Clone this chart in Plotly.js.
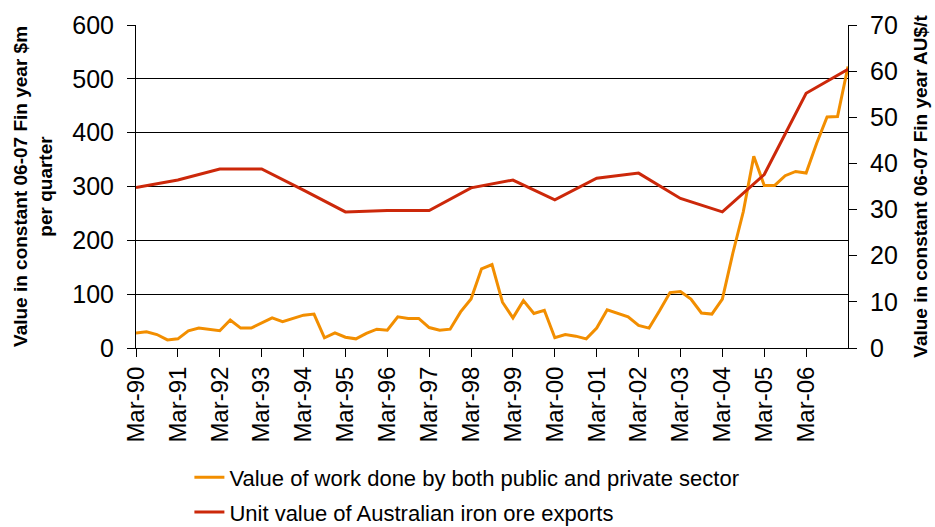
<!DOCTYPE html>
<html>
<head>
<meta charset="utf-8">
<script src="https://cdn.plot.ly/plotly-3.0.1.min.js"></script>
<style>html,body{margin:0;padding:0;background:#fff;}#chart{width:935px;height:527px;}</style>
</head>
<body>
<div id="chart"></div>
<script>
// Quarterly categories Mar-90 .. Mar-07
const quarterNames = ["Mar", "Jun", "Sep", "Dec"];
const yearCodes = ["90","91","92","93","94","95","96","97","98","99","00","01","02","03","04","05","06","07"];
const categories = [];
yearCodes.forEach(function (y) { quarterNames.forEach(function (q) { categories.push(q + "-" + y); }); });
const quarterCats = categories.slice(0, 69);

// Value of work done by both public and private sector ($m per quarter)
const workDone = [
  28, 30, 25, 15, 17, 32, 37, 35, 32, 52, 37, 37,
  46, 56, 49, 55, 61, 63, 19, 28, 20, 17, 27, 35,
  33, 58, 55, 55, 38, 33, 35, 67, 91, 147, 155, 85,
  56, 88, 64, 70, 19, 25, 22, 17, 37, 71, 64, 58,
  42, 37, 69, 103, 105, 91, 65, 63, 91, 176, 253, 356,
  302, 302, 320, 328, 325, 380, 429, 430, 523
];

// Unit value of Australian iron ore exports (AU$/t), March quarters
const unitCats = ["Mar-90","Mar-91","Mar-92","Mar-93","Mar-94","Mar-95","Mar-96","Mar-97","Mar-98",
                  "Mar-99","Mar-00","Mar-01","Mar-02","Mar-03","Mar-04","Mar-05","Mar-06","Mar-07"];
const unitValue = [34.8, 36.4, 38.8, 38.8, 34.2, 29.5, 29.8, 29.8, 34.7,
                   36.4, 32.1, 36.8, 37.9, 32.4, 29.5, 37.6, 55.2, 60.4];

const tickLabels = ["Mar-90","Mar-91","Mar-92","Mar-93","Mar-94","Mar-95","Mar-96","Mar-97","Mar-98",
                    "Mar-99","Mar-00","Mar-01","Mar-02","Mar-03","Mar-04","Mar-05","Mar-06"];

const FONT = "Liberation Sans, Arial, sans-serif";

const traces = [
  {
    x: quarterCats, y: workDone, type: "scatter", mode: "lines",
    name: "Value of work done by both public and private sector",
    line: {color: "rgb(242,142,0)", width: 3},
    legendgroup: "a", yaxis: "y"
  },
  {
    x: unitCats, y: unitValue, type: "scatter", mode: "lines",
    name: "Unit value of Australian iron ore exports",
    line: {color: "rgb(204,40,10)", width: 3},
    legendgroup: "b", yaxis: "y2"
  }
];

const layout = {
  width: 935, height: 527,
  margin: {l: 136, r: 87, t: 25, b: 179, autoexpand: false},
  paper_bgcolor: "#fff", plot_bgcolor: "#fff",
  font: {family: FONT, color: "#000"},
  showlegend: true,
  legend: {
    x: 0.075, xanchor: "left", y: -0.336, yanchor: "top",
    font: {size: 22, family: FONT, color: "#000"},
    traceorder: "grouped", tracegroupgap: 3,
    bgcolor: "rgba(0,0,0,0)"
  },
  xaxis: {
    type: "category",
    range: [0, 68],
    tickmode: "array", tickvals: tickLabels, ticktext: tickLabels,
    tickangle: -90,
    ticks: "outside", ticklen: 8, tickcolor: "#000", tickwidth: 1,
    tickfont: {size: 24, family: FONT, color: "#000"},
    showline: true, linecolor: "#000", linewidth: 1,
    showgrid: false, zeroline: false,
    automargin: false
  },
  yaxis: {
    range: [0, 600], dtick: 100, tick0: 0,
    ticks: "outside", ticklen: 8, tickcolor: "#000",
    ticklabelstandoff: 8,
    tickfont: {size: 25, family: FONT, color: "#000"},
    showline: true, linecolor: "#000", linewidth: 1,
    showgrid: true, gridcolor: "#000", gridwidth: 1,
    zeroline: false, automargin: false,
    title: {text: "<b>Value in constant 06-07 Fin year $m<br>per quarter</b>",
            font: {size: 19, family: FONT, color: "#000"}, standoff: 14}
  },
  yaxis2: {
    overlaying: "y", side: "right",
    range: [0, 70], dtick: 10, tick0: 0,
    ticks: "outside", ticklen: 8, tickcolor: "#000",
    ticklabelstandoff: 8,
    tickfont: {size: 25, family: FONT, color: "#000"},
    showline: true, linecolor: "#000", linewidth: 1,
    showgrid: false, zeroline: false, automargin: false,
    title: {text: "<b>Value in constant 06-07 Fin year AU$/t</b>",
            font: {size: 19, family: FONT, color: "#000"}, standoff: 16}
  }
};

Plotly.newPlot("chart", traces, layout, {displayModeBar: false, staticPlot: true});
</script>
</body>
</html>
